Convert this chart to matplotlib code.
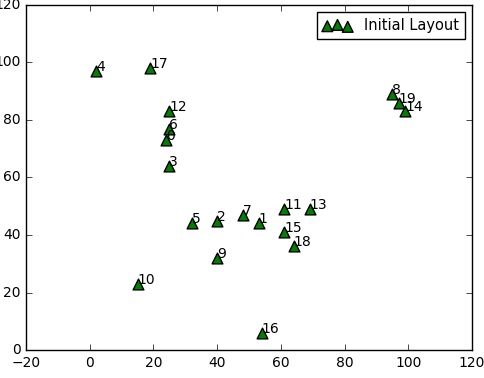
import matplotlib
matplotlib.use('Agg')
import matplotlib.pyplot as plt

plt.style.use('classic')

# node positions
ids = list(range(20))
xs = [24, 53, 40, 25, 2, 32, 25, 48, 95, 40, 15, 61, 25, 69, 99, 61, 54, 19, 64, 97]
ys = [73, 44, 45, 64, 97, 44, 77, 47, 89, 32, 23, 49, 83, 49, 83, 41, 6, 98, 36, 86]

fig = plt.figure(figsize=(4.84, 3.78), dpi=100)
ax = fig.add_axes([0.054, 0.074, 0.921, 0.913])

ax.scatter(xs, ys, s=60, marker='^', c='green', edgecolors='black',
           label='Initial Layout')
for i, x, y in zip(ids, xs, ys):
    ax.annotate(str(i), (x, y), fontsize=10)

ax.set_xlim(-20, 120)
ax.set_ylim(0, 120)
ax.tick_params(labelsize=10)
ax.legend(loc='upper right', scatterpoints=3, fontsize=10.5)

fig.savefig('out.png', dpi=100)
